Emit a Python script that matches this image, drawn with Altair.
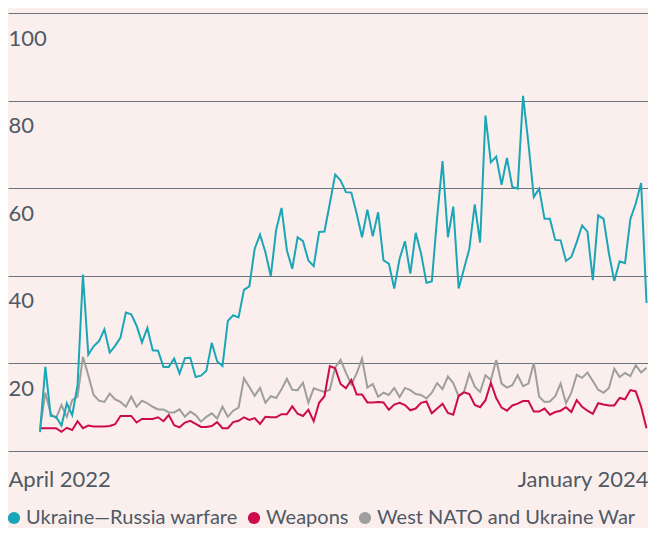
import altair as alt
import pandas as pd

SERIES = ["Ukraine—Russia warfare", "Weapons", "West NATO and Ukraine War"]
COLORS = ["#1aa6b7", "#cc0c4c", "#9e9e9e"]
X_LABELS = ["April 2022", "January 2024"]
Y_TICKS = [0, 20, 40, 60, 80, 100]

warfare = [
    4.3, 19.2, 8.0, 7.8, 5.8, 10.9, 8.2, 15.0, 40.3, 22.0,
    23.9, 25.1, 27.8, 22.5, 24.0, 25.9, 31.6, 31.2, 28.6, 24.8,
    28.1, 23.0, 22.9, 19.2, 19.2, 21.1, 17.7, 21.2, 21.3, 16.9,
    17.2, 18.3, 24.7, 20.5, 19.4, 29.7, 31.0, 30.5, 36.8, 37.6,
    46.2, 49.4, 45.4, 39.9, 50.5, 55.5, 45.8, 41.6, 48.8, 47.9,
    43.5, 42.2, 50.0, 50.1, 56.5, 63.1, 61.8, 59.1, 59.0, 54.2,
    48.8, 55.1, 49.0, 54.5, 43.5, 42.8, 37.1, 43.9, 47.9, 40.5,
    49.8, 45.1, 38.4, 38.7, 53.4, 66.2, 48.8, 55.8, 37.1, 41.6,
    46.2, 56.3, 47.6, 76.6, 65.9, 67.2, 60.8, 66.9, 60.3, 59.9,
    81.1, 70.3, 58.0, 59.9, 53.0, 53.0, 48.2, 48.1, 43.4, 44.3,
    47.7, 51.5, 50.1, 39.0, 53.8, 53.0, 45.1, 38.8, 43.3, 42.9,
    53.0, 56.5, 61.2, 33.8,
]

weapons = [
    5.2, 5.2, 5.2, 5.2, 4.4, 5.3, 4.8, 6.8, 5.2, 5.8,
    5.6, 5.6, 5.6, 5.7, 6.1, 8.0, 8.0, 8.0, 6.5, 7.3,
    7.3, 7.3, 7.7, 6.8, 8.2, 5.9, 5.4, 6.5, 6.9, 6.2,
    5.5, 5.5, 5.7, 6.6, 5.2, 5.2, 6.6, 6.9, 7.7, 7.1,
    7.5, 6.2, 7.8, 7.7, 7.7, 8.4, 8.4, 10.2, 8.5, 8.0,
    9.4, 6.8, 11.0, 12.5, 19.4, 18.9, 15.3, 14.3, 16.2, 12.9,
    12.9, 11.1, 11.1, 11.2, 11.1, 9.4, 10.6, 11.0, 10.5, 9.3,
    9.7, 11.0, 11.3, 8.6, 9.7, 10.8, 8.7, 8.3, 12.6, 13.4,
    13.0, 10.5, 10.0, 11.6, 15.6, 12.1, 9.9, 9.2, 10.4, 10.8,
    11.4, 11.4, 9.0, 9.0, 9.7, 8.3, 8.9, 9.2, 10.0, 8.9,
    11.6, 10.1, 9.2, 8.5, 10.9, 10.6, 10.4, 10.4, 12.1, 11.8,
    13.9, 13.6, 10.1, 5.2,
]

west_nato = [
    5.0, 13.3, 8.5, 7.5, 10.5, 7.8, 11.6, 12.4, 21.5, 17.3,
    12.8, 11.5, 11.2, 13.1, 11.8, 11.2, 10.1, 12.4, 10.1, 11.5,
    10.9, 10.1, 9.5, 9.5, 8.8, 8.8, 9.5, 7.8, 9.0, 8.2,
    6.7, 7.8, 8.6, 7.4, 10.1, 7.8, 9.2, 9.9, 16.6, 14.6,
    12.6, 14.4, 11.0, 12.5, 12.1, 14.1, 16.5, 14.0, 13.9, 15.6,
    11.0, 14.3, 13.9, 13.5, 14.0, 19.1, 20.8, 17.9, 15.2, 17.7,
    21.1, 14.5, 15.3, 12.4, 13.3, 12.8, 14.4, 12.3, 14.4, 13.9,
    13.0, 12.8, 12.0, 13.3, 15.5, 14.1, 17.0, 15.5, 12.5, 13.5,
    17.7, 14.7, 13.5, 17.3, 16.2, 20.8, 15.4, 14.5, 15.0, 17.3,
    14.8, 15.4, 20.1, 12.4, 11.2, 11.3, 12.5, 15.4, 10.9, 13.3,
    17.4, 16.7, 17.9, 16.0, 14.0, 13.3, 14.4, 18.8, 16.9, 17.8,
    17.1, 19.6, 17.9, 19.0,
]

week = list(range(len(warfare)))
df = pd.DataFrame({
    "week": week,
    SERIES[0]: warfare,
    SERIES[1]: weapons,
    SERIES[2]: west_nato,
})
long = df.melt(id_vars="week", var_name="series", value_name="value")

FONT = "Lato"
TEXT = "#4f5a65"
X_MIN, X_MAX = -5.96, 113.28
W, H = 640, 438

line_color = alt.Color(
    "series:N",
    scale=alt.Scale(domain=SERIES, range=COLORS),
    legend=None,
)

legend_fill = alt.Fill(
    "key:N",
    scale=alt.Scale(domain=SERIES, range=COLORS),
    legend=alt.Legend(
        orient="none",
        legendX=-4,
        legendY=495,
        offset=0,
        direction="horizontal",
        title=None,
        symbolType="circle",
        symbolSize=150,
        symbolStrokeWidth=0,
        symbolOpacity=1,
        labelFont=FONT,
        labelFontSize=20,
        labelColor=TEXT,
        labelLimit=0,
        labelOffset=2,
        columnPadding=6,
        padding=0,
    ),
)

x = alt.X(
    "week:Q",
    scale=alt.Scale(domain=[X_MIN, X_MAX], nice=False, zero=False),
    axis=alt.Axis(
        values=[X_MIN, X_MAX],
        labelExpr=f"datum.value < 0 ? '{X_LABELS[0]}' : '{X_LABELS[1]}'",
        labelFlush=True,
        grid=False,
        ticks=False,
        tickSize=0,
        domain=False,
        labelPadding=35,
        labelBaseline="alphabetic",
        labelFont=FONT,
        labelFontSize=22,
        labelColor=TEXT,
        title=None,
    ),
)

y = alt.Y(
    "value:Q",
    scale=alt.Scale(domain=[0, 100], nice=False),
    axis=alt.Axis(
        values=Y_TICKS,
        labelExpr="datum.value == 0 ? '' : datum.label",
        grid=True,
        gridColor="#6a737b",
        gridWidth=1,
        ticks=False,
        tickSize=0,
        domain=False,
        labelAlign="left",
        labelBaseline="alphabetic",
        labelPadding=0,
        labelOffset=32,
        labelFont=FONT,
        labelFontSize=22,
        labelColor=TEXT,
        title=None,
    ),
)

layers = []
for s in [SERIES[2], SERIES[1], SERIES[0]]:
    layers.append(
        alt.Chart(long)
        .transform_filter(alt.datum.series == s)
        .mark_line(strokeWidth=2, strokeJoin="miter")
        .encode(x=x, y=y, color=line_color)
    )

# invisible points that only provide the filled-circle legend
legend_layer = (
    alt.Chart(long)
    .transform_calculate(key="datum.series")
    .mark_circle(size=0)
    .encode(x=x, y=y, fill=legend_fill)
)

chart = (
    alt.layer(*layers, legend_layer)
    .resolve_scale(color="independent", fill="independent")
    .properties(
        width=W,
        height=H,
        background="#fbefee",
        padding={"left": 0, "top": 5, "right": 0, "bottom": 77},
        autosize=alt.AutoSizeParams(type="none"),
    )
    .configure_view(stroke=None)
)

chart.save("out.html", embed_options={"renderer": "svg", "actions": False})
